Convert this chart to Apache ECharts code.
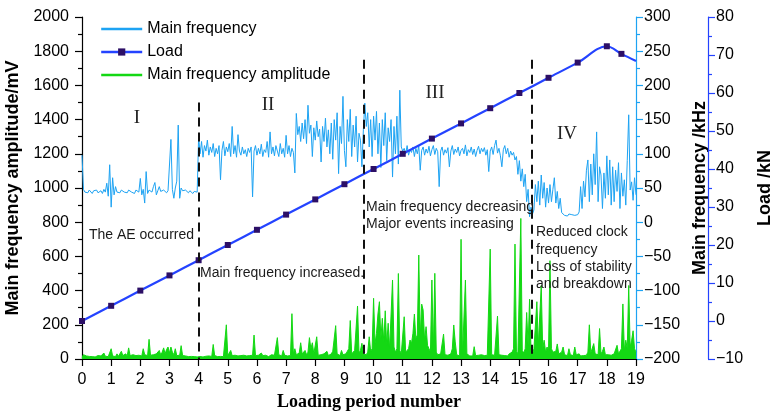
<!DOCTYPE html>
<html>
<head>
<meta charset="utf-8">
<script src="https://cdn.jsdelivr.net/npm/echarts@6/dist/echarts.min.js"></script>
<style>
  html, body { margin: 0; padding: 0; background: #fff; }
  #chart { width: 778px; height: 417px; }
</style>
</head>
<body>
<div id="chart"></div>
<script>
// sampling step of the two acoustic-emission traces (loading periods)
const STEP = 0.05;

// main frequency, kHz, one row per loading period (20 samples each)
const freqKHz = [
  98, 48, 44, 46, 43, 47, 45, 42, 46, 44, 47, 43, 45, 46, 42, 48, 44, 57, 38, 84,
  22, 65, 40, 52, 44, 46, 43, 47, 45, 44, 46, 43, 47, 45, 44, 46, 42, 47, 45, 44,
  64, 40, 48, 28, 74, 42, 47, 45, 44, 52, 58, 40, 46, 52, 45, 44, 47, 45, 43, 46,
  45, 121, 48, 35, 50, 60, 142, 35, 50, 46, 44, 47, 45, 43, 46, 44, 42, 45, 43, 44,
  125, 100, 118, 95, 112, 104, 120, 98, 110, 102, 115, 96, 108, 100, 112, 62, 105, 118, 97, 110,
  103, 115, 96, 140, 100, 112, 95, 128, 104, 98, 110, 100, 106, 96, 108, 102, 110, 37, 104, 112,
  98, 108, 100, 114, 96, 106, 102, 118, 95, 132, 100, 110, 97, 112, 104, 96, 115, 100, 108, 95,
  127, 100, 112, 96, 108, 102, 72, 159, 128, 140, 118, 145, 122, 150, 115, 171, 130, 142, 96, 138,
  120, 148, 125, 136, 88, 140, 118, 152, 110, 135, 100, 145, 92, 150, 120, 160, 71, 140, 115, 184,
  105, 81, 150, 118, 165, 96, 142, 110, 155, 88, 130, 120, 81, 135, 174, 140, 160, 110, 150, 96,
  155, 120, 162, 100, 145, 80, 150, 112, 160, 90, 138, 118, 150, 66, 140, 100, 155, 85, 193, 110,
  104, 108, 100, 112, 98, 106, 102, 110, 96, 108, 100, 112, 76, 105, 110, 98, 107, 101, 111, 97,
  106, 112, 99, 108, 103, 52, 104, 110, 98, 106, 101, 109, 81, 104, 112, 99, 107, 102, 110, 97,
  105, 108, 100, 113, 97, 106, 102, 110, 99, 107, 96, 105, 111, 100, 108, 103, 109, 98, 106, 74,
  104, 110, 99, 112, 120, 101, 108, 97, 81, 106, 112, 100, 108, 95, 104, 98, 102, 91, 96, 70,
  90, 60, 78, 52, 70, 30, 48, 8, 22, 12, 18, 55, 30, 60, 25, 69, 35, 58, 22, 50,
  28, 55, 30, 48, 65, 28, 45, 20, 35, 14, 12, 10, 11, 9, 12, 10, 11, 13, 10, 12,
  11, 15, 52, 20, 60, 37, 76, 91, 30, 85, 40, 100, 55, 132, 30, 81, 69, 20, 72, 35,
  97, 40, 91, 25, 81, 30, 76, 45, 87, 20, 72, 38, 62, 25, 90, 157, 47, 59, 32, 65,
  40
];

// main frequency amplitude, mV, same sampling
const ampMV = [
  10, 25, 30, 18, 22, 15, 20, 14, 18, 12, 16, 20, 14, 18, 12, 35, 16, 20, 14, 18,
  60, 18, 25, 14, 30, 16, 20, 45, 20, 15, 30, 18, 65, 20, 14, 25, 16, 20, 14, 22,
  28, 18, 60, 25, 35, 20, 115, 22, 18, 25, 16, 30, 20, 50, 25, 40, 65, 30, 55, 70,
  35, 70, 40, 25, 60, 20, 18, 22, 78, 20, 15, 18, 22, 14, 18, 15, 20, 14, 18, 12,
  20, 15, 18, 12, 22, 16, 14, 18, 20, 15, 85, 20, 16, 14, 18, 15, 20, 14, 25, 200,
  20, 18, 50, 20, 15, 22, 14, 18, 16, 20, 14, 22, 25, 18, 15, 20, 16, 22, 140, 20,
  18, 22, 15, 35, 20, 16, 22, 18, 14, 20, 25, 18, 22, 30, 125, 25, 20, 18, 50, 22,
  20, 18, 25, 20, 265, 30, 60, 25, 20, 35, 95, 30, 22, 50, 25, 40, 125, 60, 95, 30,
  25, 130, 22, 18, 25, 20, 30, 22, 45, 20, 25, 30, 45, 55, 195, 30, 25, 20, 50, 25,
  20, 30, 45, 60, 225, 30, 25, 50, 40, 310, 35, 50, 92, 30, 20, 25, 40, 130, 45, 60,
  355, 90, 150, 263, 335, 120, 238, 100, 282, 80, 209, 60, 50, 462, 70, 40, 60, 500, 50, 30,
  35, 247, 40, 30, 60, 111, 90, 150, 263, 120, 140, 608, 130, 321, 286, 110, 189, 80, 60, 40,
  462, 50, 501, 40, 25, 20, 30, 22, 146, 25, 18, 22, 20, 30, 60, 199, 100, 25, 20, 18,
  700, 25, 20, 462, 30, 20, 18, 22, 18, 72, 20, 16, 22, 18, 25, 16, 20, 18, 22, 30,
  643, 25, 18, 22, 30, 251, 25, 18, 22, 16, 20, 25, 18, 30, 22, 40, 60, 672, 45, 30,
  40, 822, 50, 35, 60, 272, 80, 350, 50, 30, 60, 60, 335, 80, 90, 430, 60, 110, 40, 70,
  50, 575, 60, 40, 30, 45, 88, 30, 25, 40, 70, 25, 35, 20, 60, 25, 35, 20, 70, 25,
  20, 30, 18, 25, 20, 30, 22, 40, 200, 35, 25, 90, 30, 40, 25, 178, 30, 45, 70, 25,
  20, 25, 18, 22, 20, 30, 25, 80, 30, 40, 60, 322, 50, 110, 60, 430, 70, 110, 165, 60,
  40
];

// load, kN, at the loading periods
const loadPeriod = [0, 1, 2, 3, 4, 5, 6, 7, 8, 9, 10, 11, 12, 13, 14, 15, 16, 17, 18, 18.5, 19];
const loadKN = [0, 4, 8, 12, 16, 20, 24, 28, 32, 36, 40, 44, 48, 52, 56, 60, 64, 68, 72.3, 70.3, 68.4];

// stage boundaries (period) and how high the dashed marker reaches (mV)
const stageBounds = [4, 9.68, 15.43];
const stageTops = [1500, 1750, 1750];

const chart = echarts.init(document.getElementById('chart'), null, { renderer: 'canvas' });

const FONT = "'Liberation Sans', Arial, sans-serif";
const SERIF = "'Liberation Serif', 'Times New Roman', serif";
const C_FREQ = '#1da3f3';
const C_LOAD = '#2443ff';
const C_AMP = '#14d814';
const LINE_ICON = 'path://M0,0H41V2.4H0Z';
const plain = v => String(v).replace('-', '\u2212');

const freqData = freqKHz.map((v, i) => [+(i * STEP).toFixed(2), v]);
const ampData = ampMV.map((v, i) => [+(i * STEP).toFixed(2), v]);
const loadData = loadPeriod.map((p, i) => {
  const item = { value: [p, loadKN[i]] };
  if (i === loadPeriod.length - 1) item.symbol = 'none';
  return item;
});

const stageLines = stageBounds.map((x, i) => [
  { coord: [x, stageTops[i]] },
  { coord: [x, 0] }
]);

function yAxisBase(color) {
  return {
    type: 'value',
    axisLine: { show: true, lineStyle: { color, width: 1.2 } },
    axisTick: { show: true, inside: false, length: 7, lineStyle: { color, width: 1.2 } },
    minorTick: { show: true, splitNumber: 2, length: 4, lineStyle: { color, width: 1.2 } },
    splitLine: { show: false },
    axisLabel: { color: '#000', fontSize: 16, fontFamily: FONT, formatter: plain },
    nameLocation: 'middle',
    nameRotate: 90,
    nameTextStyle: { color: '#000', fontSize: 18, fontWeight: 'bold', fontFamily: FONT }
  };
}

const annotations = [
  { text: 'The AE occurred', x: 89, y: 235 },
  { text: 'Main frequency increased.', x: 200, y: 273 },
  { text: 'Main frequency decreasing', x: 366, y: 207 },
  { text: 'Major events increasing', x: 366, y: 224 },
  { text: 'Reduced clock', x: 536, y: 232 },
  { text: 'frequency', x: 536, y: 250 },
  { text: 'Loss of stability', x: 536, y: 267 },
  { text: 'and breakdown', x: 536, y: 284 }
];
const stageNames = [
  { text: 'I', x: 137, y: 118 },
  { text: 'II', x: 268, y: 105 },
  { text: 'III', x: 435, y: 93 },
  { text: 'IV', x: 567, y: 134 }
];

chart.setOption({
  backgroundColor: '#fff',
  animation: false,
  grid: { left: 82, right: 142, top: 17, bottom: 58, outerBoundsMode: 'none', containLabel: false },
  legend: {
    orient: 'vertical',
    left: 95,
    top: 16,
    itemWidth: 41,
    itemHeight: 9,
    itemGap: 7,
    lineStyle: { width: 2.4 },
    textStyle: { color: '#000', fontSize: 16, fontFamily: FONT, lineHeight: 16 },
    data: [
      { name: 'Main frequency', icon: LINE_ICON },
      { name: 'Load' },
      { name: 'Main frequency amplitude', icon: LINE_ICON }
    ]
  },
  xAxis: {
    type: 'value',
    min: 0,
    max: 19,
    interval: 1,
    axisLine: { lineStyle: { color: '#000', width: 1.2 } },
    axisTick: { inside: false, length: 7, lineStyle: { color: '#000', width: 1.2 } },
    splitLine: { show: false },
    axisLabel: { color: '#000', fontSize: 16, fontFamily: FONT, margin: 13 },
    name: 'Loading period number',
    nameLocation: 'middle',
    nameGap: 32,
    nameTextStyle: { color: '#000', fontSize: 18, fontWeight: 'bold', fontFamily: SERIF, padding: [0, 0, 0, 20] }
  },
  yAxis: [
    Object.assign(yAxisBase('#000'), {
      position: 'left', min: 0, max: 2000, interval: 200,
      name: 'Main frequency amplitude/mV', nameGap: 56,
      axisLabel: { color: '#000', fontSize: 16, fontFamily: FONT, margin: 13, formatter: plain }
    }),
    Object.assign(yAxisBase(C_FREQ), {
      position: 'right', min: -200, max: 300, interval: 50,
      name: 'Main frequency /kHz', nameGap: 49
    }),
    Object.assign(yAxisBase(C_LOAD), {
      position: 'right', offset: 72, min: -10, max: 80, interval: 10,
      name: 'Load /kN', nameGap: 48
    })
  ],
  series: [
    {
      name: 'Main frequency amplitude',
      type: 'line',
      yAxisIndex: 0,
      data: ampData,
      showSymbol: false,
      symbol: 'none',
      z: 2,
      lineStyle: { color: C_AMP, width: 1 },
      itemStyle: { color: C_AMP },
      areaStyle: { color: C_AMP, opacity: 1 },
      markLine: {
        silent: true,
        symbol: 'none',
        label: { show: false },
        lineStyle: { color: '#111', width: 2, type: [9, 6] },
        data: stageLines,
        z: 6
      }
    },
    {
      name: 'Main frequency',
      type: 'line',
      yAxisIndex: 1,
      data: freqData,
      showSymbol: false,
      symbol: 'none',
      z: 3,
      lineStyle: { color: C_FREQ, width: 1 },
      itemStyle: { color: C_FREQ }
    },
    {
      name: 'Load',
      type: 'line',
      yAxisIndex: 2,
      data: loadData,
      smooth: 0.35,
      symbol: 'rect',
      symbolSize: 6,
      z: 4,
      lineStyle: { color: C_LOAD, width: 2.2 },
      itemStyle: { color: '#2c0f66' }
    }
  ],
  graphic: annotations.map(a => ({
    type: 'text',
    x: a.x,
    y: a.y,
    z: 10,
    style: { text: a.text, fill: '#1a1a1a', font: `14px ${FONT}`, textVerticalAlign: 'middle' }
  })).concat(stageNames.map(s => ({
    type: 'text',
    x: s.x,
    y: s.y,
    z: 10,
    style: { text: s.text, fill: '#222', font: `19px ${SERIF}`, textAlign: 'center', textVerticalAlign: 'middle' }
  })))
});

window.addEventListener('resize', () => chart.resize());
</script>
</body>
</html>
